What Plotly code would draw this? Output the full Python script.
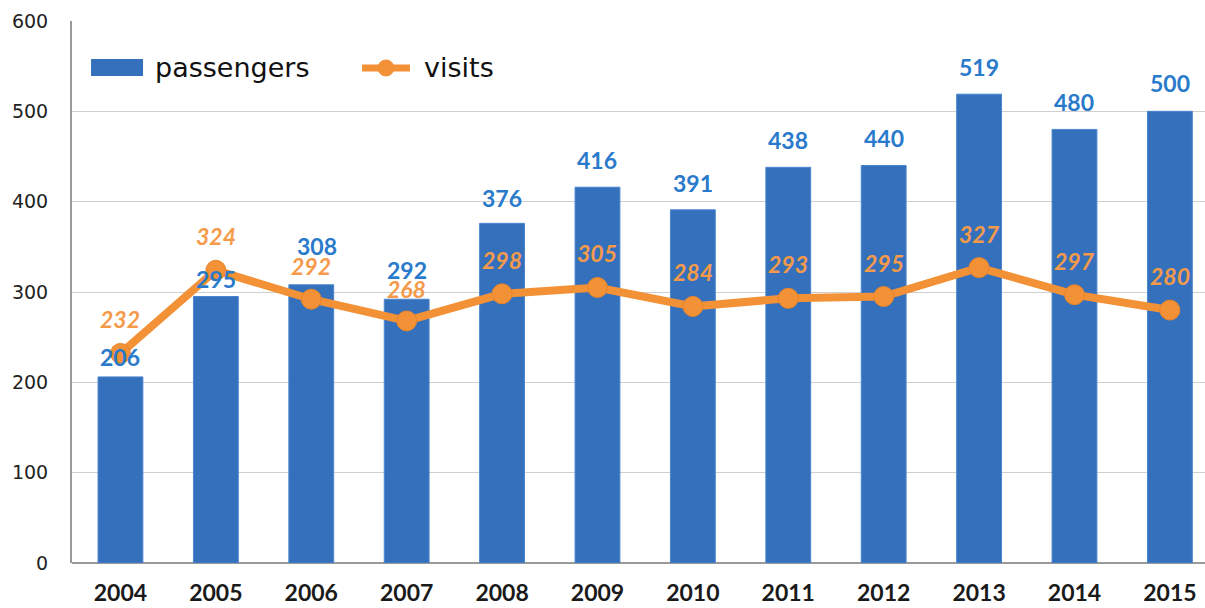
import plotly.graph_objects as go

years = ["2004", "2005", "2006", "2007", "2008", "2009", "2010", "2011", "2012", "2013", "2014", "2015"]
passengers = [206, 295, 308, 292, 376, 416, 391, 438, 440, 519, 480, 500]
visits = [232, 324, 292, 268, 298, 305, 284, 293, 295, 327, 297, 280]
y_ticks = [0, 100, 200, 300, 400, 500, 600]

# pixel offsets of the value labels above their marks
passenger_label_dy = [20, 18, 39, 29, 25, 27, 27, 27, 28, 27, 27, 28]
passenger_label_dx = [0, 0, 6, 0, 0, 0, 0, 0, 0, 0, 0, 0]
visit_label_dy = [34, 34, 33, 32, 34, 34, 34, 34, 34, 34, 34, 34]

BAR_BLUE = "#3470bb"
BAR_EDGE = "#4a86cf"
LABEL_BLUE = "#2a7acb"
ORANGE = "#f39136"
LABEL_ORANGE = "#f59a4a"

fig = go.Figure()

fig.add_trace(go.Bar(
    x=years, y=passengers, name="passengers",
    width=0.47,
    marker=dict(color=BAR_BLUE, line=dict(color=BAR_EDGE, width=1)),
    showlegend=False,
))

fig.add_trace(go.Scatter(
    x=years, y=visits, name="visits", mode="lines+markers",
    line=dict(color=ORANGE, width=8),
    marker=dict(color=ORANGE, size=20, line=dict(color="#e8842a", width=1)),
    showlegend=False,
))

# value labels; category positions are given by index (numeric-looking
# category names would otherwise be read as indices)
for i, v in enumerate(passengers):
    fig.add_annotation(
        x=i, y=v, xref="x", yref="y", text=f"<b>{v}</b>", showarrow=False,
        yshift=passenger_label_dy[i], xshift=passenger_label_dx[i],
        font=dict(family="Lato", size=23, color=LABEL_BLUE),
    )
for i, v in enumerate(visits):
    fig.add_annotation(
        x=i, y=v, xref="x", yref="y", text=f"<b><i>{v}</i></b>", showarrow=False,
        yshift=visit_label_dy[i], font=dict(family="Lato", size=23, color=LABEL_ORANGE),
    )

# legend entries drawn in paper coordinates
legend_font = dict(family="DejaVu Sans", size=27, color="#111111")
fig.add_annotation(x=0.0715, y=0.9133, xref="paper", yref="paper", text="passengers",
                   showarrow=False, xanchor="left", yanchor="middle", font=legend_font)
fig.add_annotation(x=0.3089, y=0.9133, xref="paper", yref="paper", text="visits",
                   showarrow=False, xanchor="left", yanchor="middle", font=legend_font)

shapes = [
    dict(type="rect", xref="paper", yref="paper", x0=0.0168, x1=0.0627, y0=0.8985, y1=0.9299,
         fillcolor=BAR_BLUE, line=dict(width=0)),
    dict(type="line", xref="paper", yref="paper", x0=0.256, x1=0.2983, y0=0.9133, y1=0.9133,
         line=dict(color=ORANGE, width=7)),
    dict(type="circle", xref="paper", yref="paper", xsizemode="pixel", ysizemode="pixel",
         xanchor=0.2771, yanchor=0.9133, x0=-8, x1=8, y0=-8, y1=8,
         fillcolor=ORANGE, line=dict(color=ORANGE, width=1)),
]

fig.update_layout(
    width=1205, height=608,
    margin=dict(l=72, r=0, t=21, b=45),
    paper_bgcolor="white", plot_bgcolor="white",
    shapes=shapes,
    xaxis=dict(
        type="category", range=[-0.508, 11.368],
        showgrid=False, showline=False, zeroline=False, ticks="",
        tickfont=dict(family="Lato", size=23, color="#1a1a1a", weight="bold"),
        ticklabelstandoff=14,
    ),
    yaxis=dict(
        range=[0, 600], tickvals=y_ticks,
        showgrid=True, gridcolor="#cfcfcf", gridwidth=1,
        zeroline=True, zerolinecolor="#9a9a9a", zerolinewidth=2,
        showline=True, linecolor="#9a9a9a", linewidth=2,
        ticks="", ticklabelstandoff=18,
        tickfont=dict(family="DejaVu Sans", size=19, color="#222222"),
    ),
)

fig.write_html("out.html")
